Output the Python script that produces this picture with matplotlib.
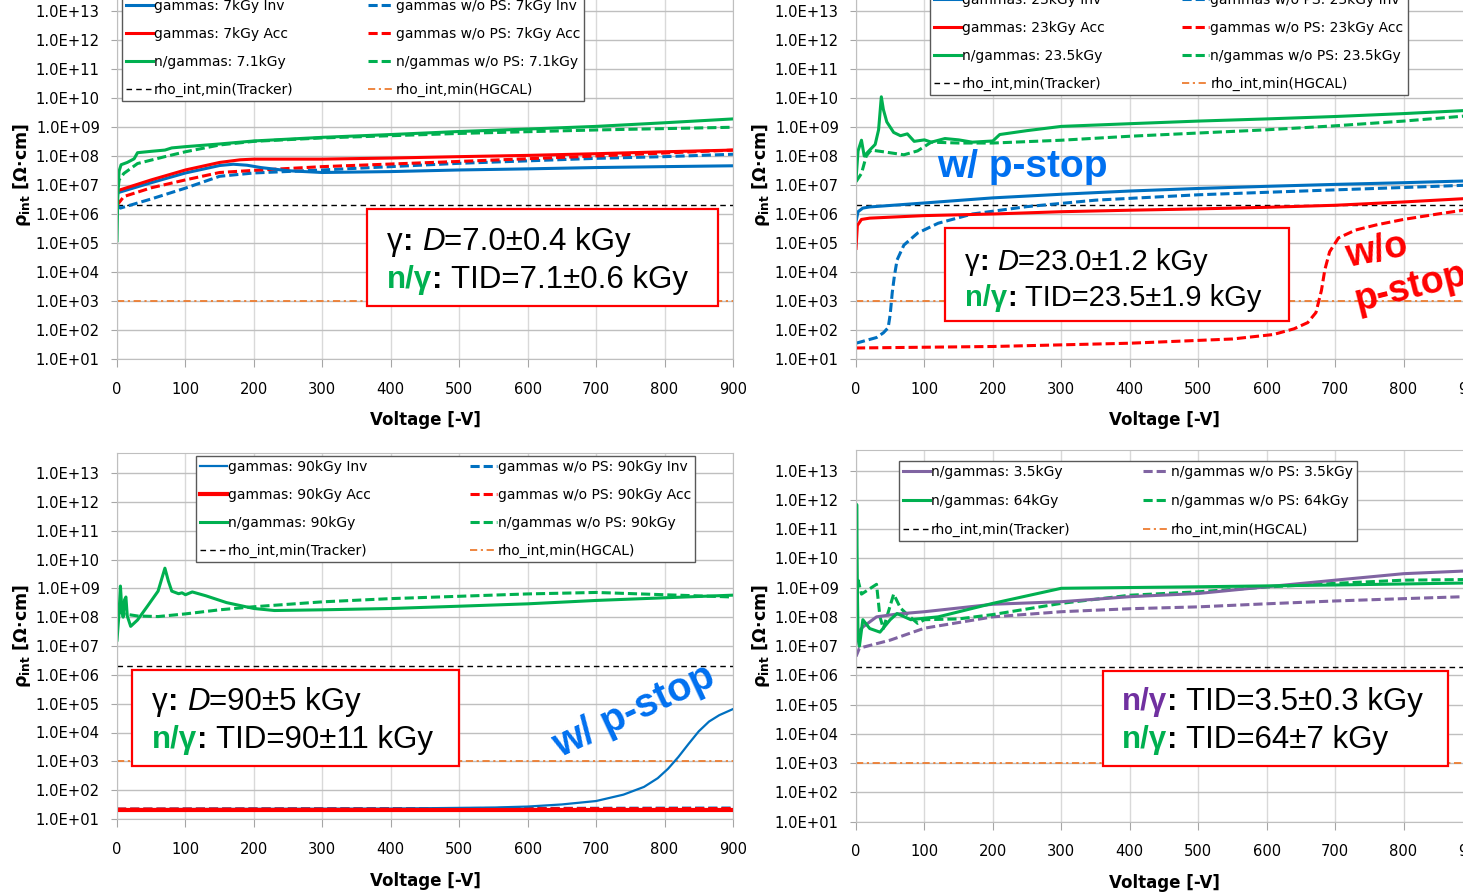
import matplotlib
matplotlib.use("Agg")
import matplotlib.pyplot as plt
import matplotlib.patches as patches
from matplotlib.text import Annotation
from matplotlib.ticker import FuncFormatter, NullLocator
import numpy as np

W, H = 1463, 892

# reference limits [Ohm cm]
tracker_min = 2.0e6
hgcal_min = 1.0e3

# ---- 7 kGy panel (bias voltage [-V], rho_int [Ohm cm]) ----
v_g7_inv = [0, 2, 25, 50, 100, 150, 170, 190, 210, 250, 300, 400, 500, 600, 700, 800, 900]
rho_g7_inv = [5.0e6, 5.5e6, 8.0e6, 1.2e7, 2.6e7, 4.7e7, 5.2e7, 4.8e7, 4.0e7, 3.1e7, 2.7e7,
              2.9e7, 3.3e7, 3.6e7, 4.0e7, 4.3e7, 4.6e7]
v_g7_acc = [0, 2, 50, 100, 150, 180, 200, 300, 400, 500, 600, 700, 800, 900]
rho_g7_acc = [5.5e6, 6.5e6, 1.5e7, 3.3e7, 6.0e7, 7.4e7, 7.8e7, 7.8e7, 8.5e7, 9.5e7, 1.05e8,
              1.2e8, 1.4e8, 1.6e8]
v_n7 = [0, 1, 3, 6, 15, 25, 30, 50, 70, 80, 100, 150, 200, 300, 400, 500, 600, 700, 800, 900]
rho_n7 = [1.2e5, 3.0e6, 3.0e7, 5.0e7, 6.0e7, 8.0e7, 1.3e8, 1.45e8, 1.6e8, 1.9e8, 2.1e8, 2.6e8,
          3.3e8, 4.4e8, 5.5e8, 7.0e8, 8.5e8, 1.05e9, 1.4e9, 1.9e9]
v_g7_inv_ps = [0, 5, 50, 100, 150, 200, 300, 400, 500, 600, 700, 800, 900]
rho_g7_inv_ps = [2.0e6, 1.6e6, 3.3e6, 7.8e6, 2.0e7, 2.6e7, 3.3e7, 4.3e7, 5.6e7, 6.8e7, 8.3e7,
                 9.5e7, 1.15e8]
v_g7_acc_ps = [0, 10, 50, 100, 150, 200, 300, 500, 700, 900]
rho_g7_acc_ps = [2.0e6, 4.0e6, 8.0e6, 1.5e7, 2.7e7, 3.2e7, 4.3e7, 6.5e7, 1.0e8, 1.6e8]
v_n7_ps = [0, 3, 10, 30, 70, 100, 150, 200, 300, 400, 500, 700, 900]
rho_n7_ps = [3.0e6, 1.5e7, 2.5e7, 5.5e7, 9.5e7, 1.4e8, 2.4e8, 3.2e8, 4.2e8, 5.0e8, 6.0e8,
             7.9e8, 9.8e8]

# ---- 23 kGy panel ----
v_g23_inv = [0, 3, 10, 20, 100, 200, 300, 400, 500, 600, 700, 800, 900]
rho_g23_inv = [5.5e5, 1.2e6, 1.6e6, 1.75e6, 2.4e6, 3.6e6, 4.8e6, 6.2e6, 7.6e6, 9.0e6, 1.05e7,
               1.2e7, 1.4e7]
v_g23_acc = [0, 2, 8, 20, 100, 200, 300, 400, 500, 600, 700, 800, 900]
rho_g23_acc = [6.5e4, 4.0e5, 6.5e5, 7.2e5, 8.8e5, 1.0e6, 1.2e6, 1.35e6, 1.5e6, 1.7e6, 2.0e6,
               2.6e6, 3.5e6]
v_n23 = [0, 3, 8, 12, 20, 28, 33, 37, 40, 45, 55, 65, 75, 85, 100, 110, 130, 150, 170, 200,
         210, 250, 300, 400, 500, 600, 700, 800, 900]
rho_n23 = [1.5e7, 1.5e8, 3.5e8, 1.0e8, 1.6e8, 2.5e8, 8.0e8, 1.1e10, 4.0e9, 1.5e9, 6.5e8, 5.0e8,
           5.8e8, 3.2e8, 3.6e8, 3.0e8, 4.0e8, 3.6e8, 3.0e8, 3.3e8, 5.5e8, 7.5e8, 1.05e9, 1.3e9,
           1.6e9, 1.9e9, 2.3e9, 2.9e9, 3.8e9]
v_g23_inv_ps = [0, 30, 40, 47, 50, 53, 56, 60, 70, 90, 120, 170, 250, 350, 500, 600, 700, 800, 900]
rho_g23_inv_ps = [3.5e1, 5.5e1, 8.0e1, 1.2e2, 3.5e2, 2.0e3, 7.0e3, 2.6e4, 8.5e4, 2.2e5, 4.8e5,
                  1.0e6, 1.8e6, 3.0e6, 4.6e6, 5.6e6, 6.8e6, 8.2e6, 1.0e7]
v_g23_acc_ps = [0, 200, 400, 550, 610, 640, 660, 672, 680, 685, 692, 705, 730, 760, 800, 850, 900]
rho_g23_acc_ps = [2.4e1, 2.7e1, 3.5e1, 4.9e1, 7.0e1, 1.1e2, 1.8e2, 4.0e2, 2.3e3, 1.2e4, 5.0e4,
                  1.5e5, 2.8e5, 4.2e5, 6.5e5, 1.0e6, 1.5e6]
v_n23_ps = [0, 8, 15, 22, 40, 70, 90, 110, 150, 200, 300, 400, 500, 600, 700, 800, 900]
rho_n23_ps = [1.3e7, 2.5e7, 1.0e8, 1.6e8, 1.4e8, 1.1e8, 1.5e8, 3.0e8, 2.8e8, 2.8e8, 3.5e8,
              4.8e8, 6.2e8, 8.0e8, 1.1e9, 1.6e9, 2.5e9]

# ---- 90 kGy panel ----
v_g90_inv = [0, 400, 550, 600, 650, 700, 740, 770, 790, 805, 820, 835, 850, 865, 880, 900]
rho_g90_inv = [2.2e1, 2.3e1, 2.5e1, 2.7e1, 3.2e1, 4.2e1, 7.0e1, 1.3e2, 2.6e2, 5.5e2, 1.4e3,
               4.0e3, 1.1e4, 2.4e4, 4.0e4, 6.5e4]
v_g90_acc = [0, 900]
rho_g90_acc = [2.1e1, 2.1e1]
v_n90 = [0, 3, 5, 7, 9, 11, 13, 15, 20, 30, 45, 60, 70, 75, 80, 90, 95, 100, 110, 130, 160,
         200, 230, 300, 400, 500, 600, 700, 800, 900]
rho_n90 = [1.6e7, 1.4e8, 1.2e9, 2.0e8, 1.0e8, 4.0e8, 5.0e8, 1.1e8, 4.8e7, 8.0e7, 2.5e8, 8.0e8,
           5.0e9, 1.8e9, 8.0e8, 6.5e8, 7.0e8, 6.0e8, 7.5e8, 5.5e8, 3.2e8, 2.0e8, 1.7e8, 1.8e8,
           2.0e8, 2.4e8, 2.9e8, 3.8e8, 4.7e8, 5.8e8]
v_g90_inv_ps = [0, 900]
rho_g90_inv_ps = [2.2e1, 2.4e1]
v_g90_acc_ps = [0, 900]
rho_g90_acc_ps = [2.2e1, 2.3e1]
v_n90_ps = [0, 10, 30, 60, 100, 150, 200, 300, 400, 500, 600, 700, 800, 900]
rho_n90_ps = [1.6e8, 1.3e8, 1.1e8, 1.05e8, 1.3e8, 1.8e8, 2.3e8, 3.4e8, 4.4e8, 5.3e8, 6.4e8,
              7.2e8, 6.0e8, 5.0e8]

# ---- n/gamma 3.5 kGy and 64 kGy panel ----
v_n35 = [0, 3, 10, 30, 60, 100, 200, 300, 400, 500, 600, 700, 800, 900]
rho_n35 = [1.2e7, 3.0e7, 4.5e7, 1.0e8, 1.25e8, 1.5e8, 2.7e8, 3.3e8, 4.9e8, 6.3e8, 1.07e9,
           1.8e9, 3.0e9, 3.8e9]
v_n35_ps = [0, 5, 50, 100, 200, 300, 400, 500, 600, 700, 800, 900]
rho_n35_ps = [4.4e6, 8.5e6, 1.6e7, 4.1e7, 1.0e8, 1.5e8, 1.9e8, 2.2e8, 2.8e8, 3.5e8, 4.2e8, 5.0e8]
v_n64 = [0, 1, 2, 3, 5, 10, 20, 35, 50, 60, 80, 100, 120, 200, 300, 500, 700, 900]
rho_n64 = [1.6e7, 7.0e11, 1.0e9, 2.0e7, 1.0e7, 8.0e7, 4.0e7, 3.0e7, 8.0e7, 1.3e8, 8.0e7, 9.0e7,
           1.0e8, 2.9e8, 9.5e8, 1.07e9, 1.23e9, 1.45e9]
v_n64_ps = [0, 3, 8, 30, 35, 40, 55, 65, 75, 90, 100, 150, 200, 300, 400, 500, 600, 700, 800, 900]
rho_n64_ps = [2.0e8, 1.8e9, 6.0e8, 1.3e9, 1.0e8, 4.0e7, 6.0e8, 2.0e8, 1.2e8, 6.0e7, 8.0e7, 8.5e7,
              1.2e8, 2.9e8, 5.5e8, 7.2e8, 1.05e9, 1.4e9, 1.8e9, 1.9e9]

BLUE = "#0070C0"
RED = "#FF0000"
GREEN = "#00B050"
PURPLE = "#8064A2"
ORANGE = "#ED7D31"
TXT_BLUE = "#0070F0"
BOX_FONT = ["Liberation Sans", "DejaVu Sans"]

plt.rcParams["font.family"] = ["DejaVu Sans"]
fig = plt.figure(figsize=(W / 100, H / 100), dpi=100)


def make_axes(x0, x900, y1, y13, xlabel_top):
    dec = (y1 - y13) / 12.0
    top = y13 - 0.7 * dec
    ax = fig.add_axes([x0 / W, 1 - y1 / H, (x900 - x0) / W, (y1 - top) / H])
    ax.set_yscale("log")
    ax.set_xlim(0, 900)
    ax.set_ylim(10, 10 ** 13.7)
    ax.set_xticks(range(0, 1000, 100))
    ax.set_yticks(10.0 ** np.arange(1, 14))
    ax.yaxis.set_minor_locator(NullLocator())
    ax.yaxis.set_major_formatter(FuncFormatter(lambda v, p: f"{v:.1E}"))
    ax.grid(axis="y", color="#BFBFBF", lw=1.0)
    ax.grid(axis="x", color="#D9D9D9", lw=1.0)
    ax.set_axisbelow(True)
    for s in ax.spines.values():
        s.set_color("#BFBFBF")
    ax.tick_params(axis="y", length=4.3, color="#A6A6A6", pad=8, labelsize=10.6)
    ax.tick_params(axis="x", length=5.5, color="#A6A6A6", pad=11, labelsize=10.6)
    ax.set_xlabel("Voltage [-V]", fontweight="bold", fontsize=12)
    ax.set_ylabel(r"ρ$_{\mathbf{int}}$ [Ω·cm]", fontweight="bold", fontsize=12.5)
    ax.yaxis.set_label_coords(-0.137, 0.5)
    ax.xaxis.set_label_coords(0.5, -(xlabel_top - y1) / (y1 - top))
    return ax


def limits(ax):
    h1, = ax.plot([0, 900], [tracker_min, tracker_min], color="black", lw=1.0, dashes=(4, 3))
    h2, = ax.plot([0, 900], [hgcal_min, hgcal_min], color=ORANGE, lw=1.3, dashes=(4, 2, 1.2, 2))
    return h1, h2


def solid(ax, v, r, c, label, lw=2.2):
    h, = ax.plot(v, r, color=c, lw=lw, label=label, solid_joinstyle="round")
    return h


def dashed(ax, v, r, c, label):
    h, = ax.plot(v, r, color=c, lw=2.2, dashes=(3, 1.3), label=label)
    return h


def legend(ax, handles, x, y, colsp, lsp=1.0):
    leg = ax.legend(handles=handles, ncol=2, loc="lower left",
                    bbox_to_anchor=(x / W, 1 - y / H), bbox_transform=fig.transFigure,
                    fontsize=10, frameon=True, fancybox=False, framealpha=1,
                    edgecolor="#595959", borderpad=0.3, borderaxespad=0, handlelength=1.9,
                    handletextpad=0.1, columnspacing=colsp, labelspacing=lsp)
    leg.get_frame().set_linewidth(1.0)
    leg.set_zorder(5)


def box(x0, y0, x1, y1):
    r = patches.Rectangle((x0 / W, 1 - y1 / H), (x1 - x0) / W, (y1 - y0) / H,
                          transform=fig.transFigure, facecolor="white",
                          edgecolor=RED, lw=1.6, zorder=6)
    fig.add_artist(r)


def rich(x, y, parts, size=22.5):
    # parts: (text, colour, weight, style, gap in points before)
    t = None
    for s, c, w, st, gap in parts:
        kw = dict(color=c, fontweight=w, fontstyle=st, fontsize=size, family=BOX_FONT, zorder=7)
        if t is None:
            t = fig.text(x / W, 1 - y / H, s, ha="left", va="baseline", **kw)
        else:
            a = Annotation(s, xy=(1, 0), xycoords=t, xytext=(gap, 0),
                           textcoords="offset points", ha="left", va="bottom", **kw)
            fig.add_artist(a)
            t = a


SP = 6.2  # width of a space, points

# ---------- top left: 7 kGy ----------
ax = make_axes(117, 733, 359, 11, 411)
tr, hg = limits(ax)
h_ps = [dashed(ax, v_g7_inv_ps, rho_g7_inv_ps, BLUE, "gammas w/o PS: 7kGy Inv"),
        dashed(ax, v_g7_acc_ps, rho_g7_acc_ps, RED, "gammas w/o PS: 7kGy Acc"),
        dashed(ax, v_n7_ps, rho_n7_ps, GREEN, "n/gammas w/o PS: 7.1kGy")]
h_s = [solid(ax, v_g7_inv, rho_g7_inv, BLUE, "gammas: 7kGy Inv"),
       solid(ax, v_g7_acc, rho_g7_acc, RED, "gammas: 7kGy Acc"),
       solid(ax, v_n7, rho_n7, GREEN, "n/gammas: 7.1kGy")]
tr.set_label("rho_int,min(Tracker)")
hg.set_label("rho_int,min(HGCAL)")
legend(ax, h_s + [tr] + h_ps + [hg], 122, 101, 5.35)

box(367, 209, 718, 306)
rich(387, 250, [("γ", "black", "normal", "normal", 0), (":", "black", "bold", "normal", 0),
                ("D", "black", "normal", "italic", SP), ("=7.0±0.4 kGy", "black", "normal", "normal", 0)])
rich(387, 288, [("n/γ", GREEN, "bold", "normal", 0), (":", "black", "bold", "normal", 0),
                ("TID=7.1±0.6 kGy", "black", "normal", "normal", SP)])

# ---------- top right: 23 kGy ----------
ax = make_axes(856, 1472, 359, 11, 411)
tr, hg = limits(ax)
h_ps = [dashed(ax, v_g23_inv_ps, rho_g23_inv_ps, BLUE, "gammas w/o PS: 23kGy Inv"),
        dashed(ax, v_g23_acc_ps, rho_g23_acc_ps, RED, "gammas w/o PS: 23kGy Acc"),
        dashed(ax, v_n23_ps, rho_n23_ps, GREEN, "n/gammas w/o PS: 23.5kGy")]
h_s = [solid(ax, v_g23_inv, rho_g23_inv, BLUE, "gammas: 23kGy Inv"),
       solid(ax, v_g23_acc, rho_g23_acc, RED, "gammas: 23kGy Acc"),
       solid(ax, v_n23, rho_n23, GREEN, "n/gammas: 23.5kGy")]
tr.set_label("rho_int,min(Tracker)")
hg.set_label("rho_int,min(HGCAL)")
legend(ax, h_s + [tr] + h_ps + [hg], 930, 95, 5.6)

box(945, 228, 1289, 321)
rich(965, 270, [("γ", "black", "normal", "normal", 0), (":", "black", "bold", "normal", 0),
                ("D", "black", "normal", "italic", 5.8), ("=23.0±1.2 kGy", "black", "normal", "normal", 0)],
     size=21)
rich(965, 306, [("n/γ", GREEN, "bold", "normal", 0), (":", "black", "bold", "normal", 0),
                ("TID=23.5±1.9 kGy", "black", "normal", "normal", 5.8)], size=21)
fig.text(937 / W, 1 - 177 / H, "w/ p-stop", color=TXT_BLUE, fontsize=28, fontweight="bold",
         family=BOX_FONT, ha="left", va="baseline", zorder=7)
fig.text(1348 / W, 1 - 267 / H, "w/o", color=RED, fontsize=27, fontweight="bold",
         family=BOX_FONT, ha="left", va="baseline", rotation=11, rotation_mode="anchor", zorder=7)
fig.text(1358 / W, 1 - 311 / H, "p-stop", color=RED, fontsize=27, fontweight="bold",
         family=BOX_FONT, ha="left", va="baseline", rotation=14, rotation_mode="anchor", zorder=7)

# ---------- bottom left: 90 kGy ----------
ax = make_axes(117, 733, 819, 473, 872)
tr, hg = limits(ax)
h_ps = [dashed(ax, v_g90_inv_ps, rho_g90_inv_ps, BLUE, "gammas w/o PS: 90kGy Inv"),
        dashed(ax, v_g90_acc_ps, rho_g90_acc_ps, RED, "gammas w/o PS: 90kGy Acc"),
        dashed(ax, v_n90_ps, rho_n90_ps, GREEN, "n/gammas w/o PS: 90kGy")]
h_s = [solid(ax, v_g90_inv, rho_g90_inv, BLUE, "gammas: 90kGy Inv", lw=1.6),
       solid(ax, v_g90_acc, rho_g90_acc, RED, "gammas: 90kGy Acc", lw=3.0),
       solid(ax, v_n90, rho_n90, GREEN, "n/gammas: 90kGy")]
tr.set_label("rho_int,min(Tracker)")
hg.set_label("rho_int,min(HGCAL)")
legend(ax, h_s + [tr] + h_ps + [hg], 196, 562, 7.15)

box(132, 670, 459, 766)
rich(152, 710, [("γ", "black", "normal", "normal", 0), (":", "black", "bold", "normal", 0),
                ("D", "black", "normal", "italic", SP), ("=90±5 kGy", "black", "normal", "normal", 0)])
rich(152, 748, [("n/γ", GREEN, "bold", "normal", 0), (":", "black", "bold", "normal", 0),
                ("TID=90±11 kGy", "black", "normal", "normal", SP)])
fig.text(560 / W, 1 - 758 / H, "w/ p-stop", color=TXT_BLUE, fontsize=28.5, fontweight="bold",
         family=BOX_FONT, ha="left", va="baseline", rotation=25, rotation_mode="anchor", zorder=7)

# ---------- bottom right: n/gammas 3.5 and 64 kGy ----------
ax = make_axes(856, 1472, 821.5, 470.7, 874)
tr, hg = limits(ax)
h_ps = [dashed(ax, v_n35_ps, rho_n35_ps, PURPLE, "n/gammas w/o PS: 3.5kGy"),
        dashed(ax, v_n64_ps, rho_n64_ps, GREEN, "n/gammas w/o PS: 64kGy")]
h_s = [solid(ax, v_n35, rho_n35, PURPLE, "n/gammas: 3.5kGy"),
       solid(ax, v_n64, rho_n64, GREEN, "n/gammas: 64kGy")]
tr.set_label("rho_int,min(Tracker)")
hg.set_label("rho_int,min(HGCAL)")
legend(ax, h_s + [tr] + h_ps + [hg], 899, 541, 5.2, lsp=1.07)

box(1103, 671, 1448, 766)
rich(1122, 710, [("n/γ", "#7030A0", "bold", "normal", 0), (":", "black", "bold", "normal", 0),
                 ("TID=3.5±0.3 kGy", "black", "normal", "normal", SP)])
rich(1122, 748, [("n/γ", GREEN, "bold", "normal", 0), (":", "black", "bold", "normal", 0),
                 ("TID=64±7 kGy", "black", "normal", "normal", SP)])

fig.savefig("out.png", dpi=100)
plt.close(fig)
